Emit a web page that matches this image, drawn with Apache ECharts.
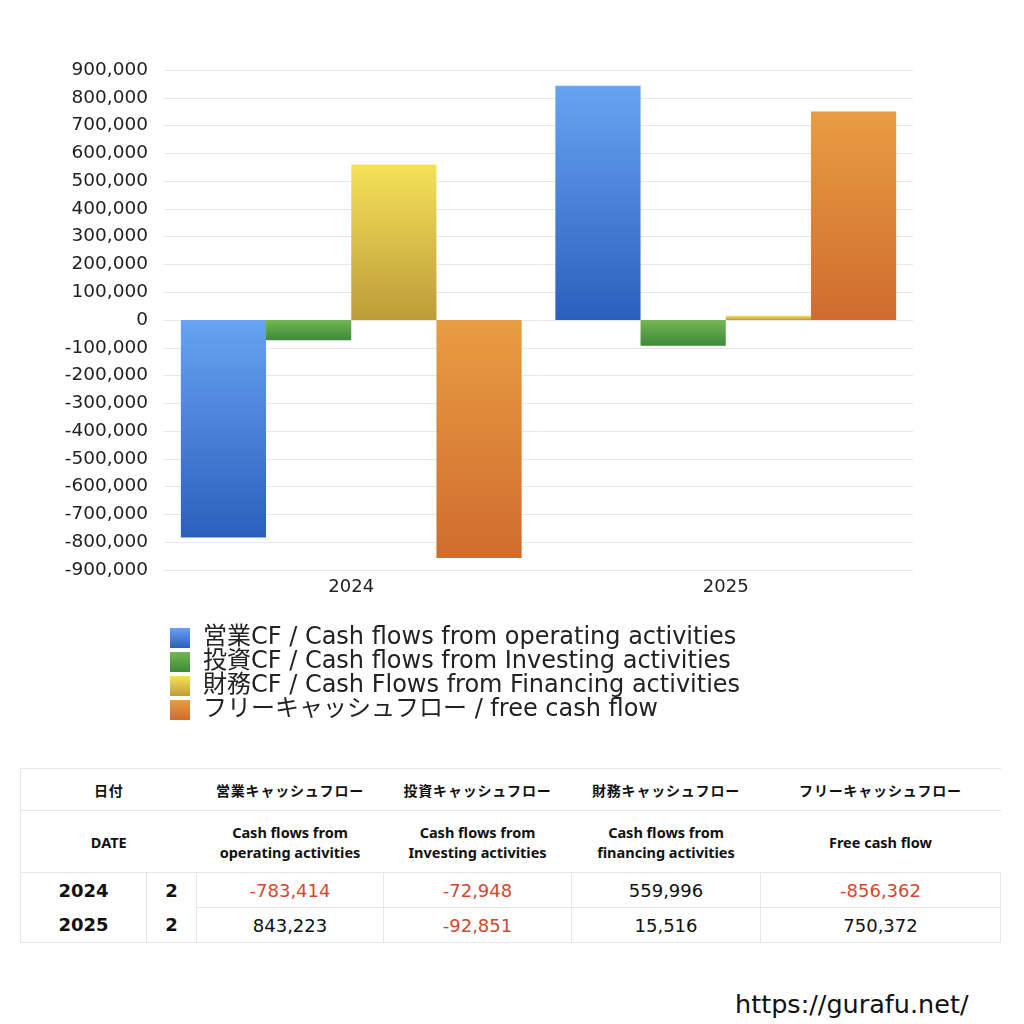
<!DOCTYPE html>
<html><head><meta charset="utf-8">
<script src="https://cdn.jsdelivr.net/npm/echarts@6/dist/echarts.min.js"></script>
<style>
html,body{margin:0;padding:0;background:#fff;width:1024px;height:1024px;overflow:hidden;font-family:"Noto Sans CJK JP","Noto Sans",sans-serif;}
#chart{position:absolute;left:0;top:0;width:1024px;height:740px;}
#tbl{position:absolute;left:20px;top:768px;border-collapse:collapse;color:#111;}
#tbl td{border:1px solid #e6e6e6;text-align:center;padding:0;}
#tbl .h1 td{height:41px;font-size:14px;font-weight:bold;letter-spacing:0.8px;}
#tbl .h2 td{height:61px;font-size:14.5px;font-weight:bold;line-height:20px;font-family:"Noto Sans","Noto Sans CJK JP",sans-serif;}
#tbl .d td{height:34px;font-size:18px;font-family:"DejaVu Sans",sans-serif;}
#tbl .d td.yr{font-weight:bold;font-size:18px;}
#tbl .neg{color:#d2492f;}
#wm{position:absolute;left:735px;top:989px;font-size:25.5px;color:#111;font-family:"DejaVu Sans",sans-serif;}
</style></head>
<body>
<div id="chart"></div>
<table id="tbl"></table>
<div id="wm">https://gurafu.net/</div>
<script>
const categories = ['2024', '2025'];
const operatingCF = [-783414, 843223];
const investingCF = [-72948, -92851];
const financingCF = [559996, 15516];
const freeCF = [-856362, 750372];
const monthCol = ['2', '2'];
const seriesNames = [
  '営業CF / Cash flows from operating activities',
  '投資CF / Cash flows from Investing activities',
  '財務CF / Cash Flows from Financing activities',
  'フリーキャッシュフロー / free cash flow'
];
const headerJa = ['営業キャッシュフロー', '投資キャッシュフロー', '財務キャッシュフロー', 'フリーキャッシュフロー'];
const headerEn = ['Cash flows from<br>operating activities', 'Cash flows from<br>Investing activities', 'Cash flows from<br>financing activities', 'Free cash flow'];

function grad(top, bottom) {
  return new echarts.graphic.LinearGradient(0, 0, 0, 1, [{offset: 0, color: top}, {offset: 1, color: bottom}]);
}
const colors = [
  grad('#67a3f2', '#2b5fbc'),
  grad('#74b653', '#3c8a39'),
  grad('#f5e257', '#bd9c39'),
  grad('#e89d42', '#d06c2e')
];
const allData = [operatingCF, investingCF, financingCF, freeCF];
const latin = '"DejaVu Sans","Noto Sans CJK JP",sans-serif';

const chart = echarts.init(document.getElementById('chart'));
chart.setOption({
  animation: false,
  textStyle: {fontFamily: latin},
  grid: {left: 164, right: 111, top: 70, height: 500},
  legend: {
    orient: 'vertical', left: 165, top: 621,
    itemWidth: 20, itemHeight: 20, itemGap: 0,
    icon: 'rect',
    textStyle: {fontSize: 24, color: '#222', fontFamily: latin, padding: [0, 0, 0, 8], lineHeight: 20},
    data: seriesNames
  },
  xAxis: {
    type: 'category', data: categories,
    axisLine: {show: false, onZero: false}, axisTick: {show: false},
    axisLabel: {fontSize: 18, color: '#222', margin: 8}
  },
  yAxis: {
    type: 'value', min: -900000, max: 900000, interval: 100000,
    axisLine: {show: false}, axisTick: {show: false},
    splitLine: {lineStyle: {color: '#e8e8e8'}},
    axisLabel: {fontSize: 18.5, color: '#222', margin: 16, padding: [4, 0, 0, 0],
      formatter: v => v.toLocaleString('en-US')}
  },
  series: allData.map((d, i) => ({
    name: seriesNames[i], type: 'bar', data: d,
    barGap: 0, barCategoryGap: '9%',
    itemStyle: {color: colors[i]}
  }))
});

// table
const tbl = document.getElementById('tbl');
const colW = [126, 50, 187, 188, 189, 240];
let html = '<colgroup>' + colW.map(w => '<col style="width:' + w + 'px">').join('') + '</colgroup>';
html += '<tr class="h1"><td colspan="2" style="border-right:none">日付</td>' + headerJa.map(h => '<td style="border-left:none;border-right:none">' + h + '</td>').join('') + '</tr>';
html += '<tr class="h2"><td colspan="2" style="border-right:none">DATE</td>' + headerEn.map(h => '<td style="border-left:none;border-right:none">' + h + '</td>').join('') + '</tr>';
categories.forEach((c, r) => {
  html += '<tr class="d"><td class="yr" style="border-top:' + (r ? 'none' : '') + ';border-bottom:' + (r ? '' : 'none') + '">' + c + '</td><td class="yr" style="border-top:' + (r ? 'none' : '') + ';border-bottom:' + (r ? '' : 'none') + '">' + monthCol[r] + '</td>';
  allData.forEach(d => {
    const v = d[r];
    html += '<td class="' + (v < 0 ? 'neg' : '') + '">' + v.toLocaleString('en-US') + '</td>';
  });
  html += '</tr>';
});
tbl.innerHTML = html;
</script>
</body></html>
